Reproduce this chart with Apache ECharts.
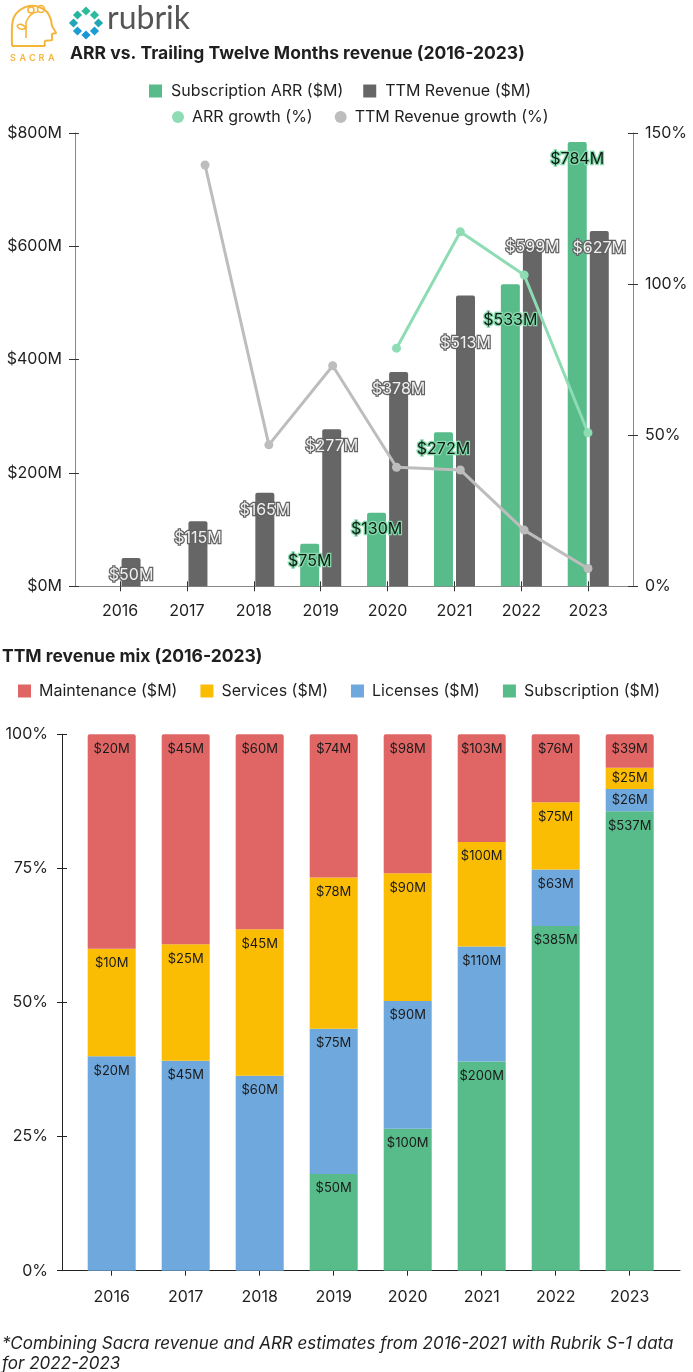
<!DOCTYPE html>
<html><head><meta charset="utf-8">
<script src="https://cdn.jsdelivr.net/npm/echarts@6/dist/echarts.min.js"></script>
<style>html,body{margin:0;padding:0;background:#fff}#c{width:693px;height:1372px}</style>
</head><body><div id="c"></div>
<script>
// ---- data ----
const years = ['2016','2017','2018','2019','2020','2021','2022','2023'];
const arrValues = [null, null, null, 75, 130, 272, 533, 784];
const ttmRevenue = [50, 115, 165, 277, 378, 513, 599, 627];
const arrGrowth = [null, null, null, null, 78.8, 117.3, 103, 50.8];
const ttmGrowth = [null, 139.4, 46.8, 73, 39.4, 38.5, 18.6, 5.9];

const maintenance = [20, 45, 60, 74, 98, 103, 76, 39];
const services = [10, 25, 45, 78, 90, 100, 75, 25];
const licenses = [20, 45, 60, 75, 90, 110, 63, 26];
const subscription = [0, 0, 0, 50, 100, 200, 385, 537];

// label nudges (px) used by the reference to keep crowded labels apart
const arrLabelNudge = [0, 0, 0, 0, 0, 0, 19, 0];
const ttmLabelNudge = [0, 0, 0, 0, 0, 31, -17, 0];

const FONT = 'Inter';
const TXT = '#1f1f1f';
const GREEN = '#57bb8a', GRAY = '#666666', MINT = '#8edcb4', LGRAY = '#bdbdbd';
const RED = '#e06666', YELLOW = '#fbbc04', BLUE = '#6fa8dc';
const LOGO = '#f5b43a';

const totals = years.map((_, i) => maintenance[i] + services[i] + licenses[i] + subscription[i]);
const PLOT_H = 536.4; // bottom chart plot height, only used to choose label placement
function mixData(arr) {
  return arr.map((v, i) => {
    const pct = v / totals[i] * 100;
    const small = pct / 100 * PLOT_H < 30;
    return { value: pct, raw: v,
      label: { show: v > 0, position: small ? 'inside' : 'insideTop', distance: 8 } };
  });
}
function nudged(arr, nudge) {
  return arr.map((v, i) => ({ value: v, label: { offset: [0, nudge[i]] } }));
}

const chart = echarts.init(document.getElementById('c'));

const frameX = (grid, color) => ({ gridIndex: grid, type: 'value', min: 0, max: 1,
  axisLine: { show: true, onZero: false, lineStyle: { color, width: 1 } },
  axisTick: { show: false }, axisLabel: { show: false }, splitLine: { show: false } });

function diamond(cx, cy, color) {
  return { type: 'polygon', shape: { points: [[cx, cy - 4.6], [cx + 4.6, cy], [cx, cy + 4.6], [cx - 4.6, cy]] },
    style: { fill: color } };
}
function letter(ch, x) {
  return { type: 'text', left: x, top: 54, style: { text: ch, font: '600 9px ' + FONT, fill: LOGO } };
}

const option = {
  animation: false,
  backgroundColor: '#fff',
  textStyle: { fontFamily: FONT },
  title: [
    { text: 'ARR vs. Trailing Twelve Months revenue (2016-2023)', left: 70, top: 45, padding: 0,
      textStyle: { fontFamily: FONT, fontSize: 17.5, fontWeight: 'bold', color: TXT } },
    { text: 'TTM revenue mix (2016-2023)', left: 2, top: 648, padding: 0,
      textStyle: { fontFamily: FONT, fontSize: 17.5, fontWeight: 'bold', color: TXT } }
  ],
  legend: [
    { data: ['Subscription ARR ($M)', 'TTM Revenue ($M)'], left: 144, top: 78, icon: 'rect',
      itemWidth: 13, itemHeight: 13, itemGap: 20,
      textStyle: { fontFamily: FONT, fontSize: 16, color: TXT, padding: [0, 0, 0, 4] } },
    { data: ['ARR growth (%)', 'TTM Revenue growth (%)'], left: 167, top: 104, icon: 'circle',
      itemWidth: 12, itemHeight: 12, itemGap: 22,
      textStyle: { fontFamily: FONT, fontSize: 16, color: TXT, padding: [0, 0, 0, 3] } },
    { data: ['Maintenance ($M)', 'Services ($M)', 'Licenses ($M)', 'Subscription ($M)'], left: 13, top: 678,
      icon: 'rect', itemWidth: 13, itemHeight: 13, itemGap: 23,
      textStyle: { fontFamily: FONT, fontSize: 16, color: TXT, padding: [0, 0, 0, 3] } }
  ],
  grid: [
    { left: 75, width: 558, top: 133, height: 453.3 },      // 0 top frame
    { left: 86.6, width: 535.1, top: 133, height: 453.3 },  // 1 top bars
    { left: 109.3, width: 510.6, top: 133, height: 453.3 }, // 2 top lines
    { left: 62, width: 618, top: 734.3, height: 536.4 },    // 3 bottom frame
    { left: 74.7, width: 592, top: 734.3, height: 536.4 }   // 4 bottom bars
  ],
  xAxis: [
    frameX(0, '#888'),
    { gridIndex: 1, type: 'category', data: years, axisLine: { show: false },
      axisTick: { show: true, alignWithLabel: true, length: 5, lineStyle: { color: '#333' } },
      axisLabel: { fontFamily: FONT, fontSize: 16, color: TXT, margin: 16.5 } },
    { gridIndex: 1, type: 'category', data: years, position: 'bottom', axisLine: { show: false },
      axisTick: { show: true, inside: true, alignWithLabel: true, length: 5, lineStyle: { color: '#333' } },
      axisLabel: { show: false } },
    { gridIndex: 2, type: 'category', data: years, show: false },
    frameX(3, '#222'),
    { gridIndex: 4, type: 'category', data: years, axisLine: { show: false },
      axisTick: { show: true, alignWithLabel: true, length: 5, lineStyle: { color: '#222' } },
      axisLabel: { fontFamily: FONT, fontSize: 16, color: TXT, margin: 18 } },
    { gridIndex: 4, type: 'category', data: years, position: 'bottom', axisLine: { show: false },
      axisTick: { show: true, inside: true, alignWithLabel: true, length: 5, lineStyle: { color: '#222' } },
      axisLabel: { show: false } }
  ],
  yAxis: [
    { gridIndex: 0, type: 'value', position: 'left', min: 0, max: 800, interval: 200,
      axisLine: { show: true, onZero: false, lineStyle: { color: '#888' } },
      axisTick: { show: true, length: 6, lineStyle: { color: '#333' } },
      axisLabel: { fontFamily: FONT, fontSize: 16, color: TXT, margin: 13, formatter: v => '$' + v + 'M' },
      splitLine: { show: false } },
    { gridIndex: 0, type: 'value', position: 'left', min: 0, max: 800, interval: 200,
      axisLine: { show: false, onZero: false }, axisTick: { show: true, inside: true, length: 4, lineStyle: { color: '#333' } },
      axisLabel: { show: false }, splitLine: { show: false } },
    { gridIndex: 0, type: 'value', position: 'right', min: 0, max: 150, interval: 50,
      axisLine: { show: true, onZero: false, lineStyle: { color: '#888' } },
      axisTick: { show: true, length: 5, lineStyle: { color: '#333' } },
      axisLabel: { fontFamily: FONT, fontSize: 16, color: TXT, margin: 12, formatter: v => v + '%' },
      splitLine: { show: false } },
    { gridIndex: 0, type: 'value', position: 'right', min: 0, max: 150, interval: 50,
      axisLine: { show: false, onZero: false }, axisTick: { show: true, inside: true, length: 5, lineStyle: { color: '#333' } },
      axisLabel: { show: false }, splitLine: { show: false } },
    { gridIndex: 1, type: 'value', min: 0, max: 800, show: false },
    { gridIndex: 2, type: 'value', min: 0, max: 150, show: false },
    { gridIndex: 3, type: 'value', position: 'left', min: 0, max: 100, interval: 25,
      axisLine: { show: true, onZero: false, lineStyle: { color: '#222' } },
      axisTick: { show: true, length: 5, lineStyle: { color: '#222' } },
      axisLabel: { fontFamily: FONT, fontSize: 16, color: TXT, margin: 14, formatter: v => v + '%' },
      splitLine: { show: false } },
    { gridIndex: 3, type: 'value', position: 'left', min: 0, max: 100, interval: 25,
      axisLine: { show: false, onZero: false }, axisTick: { show: true, inside: true, length: 5, lineStyle: { color: '#222' } },
      axisLabel: { show: false }, splitLine: { show: false } },
    { gridIndex: 4, type: 'value', min: 0, max: 100, show: false }
  ],
  series: [
    { name: 'Subscription ARR ($M)', type: 'bar', xAxisIndex: 1, yAxisIndex: 4, data: nudged(arrValues, arrLabelNudge),
      barWidth: 19, barGap: '16%', itemStyle: { color: GREEN, borderRadius: [2, 2, 0, 0] },
      label: { show: true, position: 'insideTop', distance: 9, fontFamily: FONT, fontSize: 16,
        color: '#0c1c12', textBorderColor: '#86d9ad', textBorderWidth: 2.5,
        formatter: p => p.value == null ? '' : '$' + p.value + 'M' } },
    { name: 'TTM Revenue ($M)', type: 'bar', xAxisIndex: 1, yAxisIndex: 4, data: nudged(ttmRevenue, ttmLabelNudge),
      barWidth: 19, barGap: '16%', itemStyle: { color: GRAY, borderRadius: [2, 2, 0, 0] },
      label: { show: true, position: 'insideTop', distance: 9, fontFamily: FONT, fontSize: 16,
        color: '#f0f0f0', textBorderColor: '#636363', textBorderWidth: 2.5,
        formatter: p => '$' + p.value + 'M' } },
    { name: 'ARR growth (%)', type: 'line', xAxisIndex: 3, yAxisIndex: 5, data: arrGrowth,
      symbol: 'circle', symbolSize: 9, showSymbol: true, connectNulls: false,
      lineStyle: { color: MINT, width: 3 }, itemStyle: { color: MINT }, z: 5 },
    { name: 'TTM Revenue growth (%)', type: 'line', xAxisIndex: 3, yAxisIndex: 5, data: ttmGrowth,
      symbol: 'circle', symbolSize: 9, showSymbol: true, connectNulls: false,
      lineStyle: { color: LGRAY, width: 3 }, itemStyle: { color: LGRAY }, z: 5 },

    { name: 'Subscription ($M)', type: 'bar', stack: 'mix', xAxisIndex: 5, yAxisIndex: 8, barWidth: 48,
      data: mixData(subscription), itemStyle: { color: GREEN },
      label: { fontFamily: FONT, fontSize: 13, color: '#1a1a1a', formatter: p => '$' + p.data.raw + 'M' } },
    { name: 'Licenses ($M)', type: 'bar', stack: 'mix', xAxisIndex: 5, yAxisIndex: 8, barWidth: 48,
      data: mixData(licenses), itemStyle: { color: BLUE },
      label: { fontFamily: FONT, fontSize: 13, color: '#1a1a1a', formatter: p => '$' + p.data.raw + 'M' } },
    { name: 'Services ($M)', type: 'bar', stack: 'mix', xAxisIndex: 5, yAxisIndex: 8, barWidth: 48,
      data: mixData(services), itemStyle: { color: YELLOW },
      label: { fontFamily: FONT, fontSize: 13, color: '#1a1a1a', formatter: p => '$' + p.data.raw + 'M' } },
    { name: 'Maintenance ($M)', type: 'bar', stack: 'mix', xAxisIndex: 5, yAxisIndex: 8, barWidth: 48,
      data: mixData(maintenance), itemStyle: { color: RED, borderRadius: [2, 2, 0, 0] },
      label: { fontFamily: FONT, fontSize: 13, color: '#1a1a1a', formatter: p => '$' + p.data.raw + 'M' } }
  ],
  graphic: [
    // Sacra logo (head outline with sprout)
    { type: 'polyline', shape: { points: [[12, 46], [12, 27], [14, 17], [20, 10], [29, 6], [39, 7], [47, 12], [51, 20], [52, 26], [56, 33], [52, 34], [52, 40], [45, 41], [45, 46]], smooth: 0.25 },
      style: { fill: 'none', stroke: LOGO, lineWidth: 2 } },
    { type: 'line', shape: { x1: 12, y1: 46, x2: 45, y2: 46 }, style: { stroke: LOGO, lineWidth: 2 } },
    { type: 'line', shape: { x1: 26, y1: 38, x2: 26, y2: 22 }, style: { stroke: LOGO, lineWidth: 1.6 } },
    { type: 'bezierCurve', shape: { x1: 26, y1: 22, x2: 38, y2: 12, cpx1: 29, cpy1: 15, cpx2: 33, cpy2: 12 }, style: { fill: 'none', stroke: LOGO, lineWidth: 1.6 } },
    { type: 'bezierCurve', shape: { x1: 26, y1: 28, x2: 17, y2: 26, cpx1: 23, cpy1: 24, cpx2: 19, cpy2: 23 }, style: { fill: 'none', stroke: LOGO, lineWidth: 1.6 } },
    { type: 'bezierCurve', shape: { x1: 17, y1: 26, x2: 26, y2: 28, cpx1: 19, cpy1: 30, cpx2: 23, cpy2: 30 }, style: { fill: 'none', stroke: LOGO, lineWidth: 1.6 } },
    { type: 'circle', shape: { cx: 41, cy: 9, r: 3.5 }, style: { fill: 'none', stroke: LOGO, lineWidth: 1.6 } },
    { type: 'circle', shape: { cx: 31, cy: 10, r: 3 }, style: { fill: 'none', stroke: LOGO, lineWidth: 1.6 } },
    letter('S', 10), letter('A', 19.5), letter('C', 29), letter('R', 38.5), letter('A', 48),
    // Rubrik logo
    diamond(86, 11, '#2dbb9c'),
    diamond(77.5, 15, '#27b3a2'),
    diamond(94.5, 15, '#2dbb9c'),
    diamond(73.5, 23, '#22a6b6'),
    diamond(98.5, 23, '#22a6b6'),
    diamond(77.5, 31, '#1c9cd0'),
    diamond(94.5, 31, '#1c9cd0'),
    diamond(86, 35, '#1a94d8'),
    { type: 'text', left: 107, top: 3, style: { text: 'rubrik', font: '32px Lato', fill: '#555' } },
    // footnote
    { type: 'text', left: 2, top: 1334, style: {
      text: '*Combining Sacra revenue and ARR estimates from 2016-2021 with Rubrik S-1 data\nfor 2022-2023',
      font: 'italic 17px ' + FONT, fill: TXT, lineHeight: 20 } }
  ]
};
chart.setOption(option);
</script>
</body></html>
